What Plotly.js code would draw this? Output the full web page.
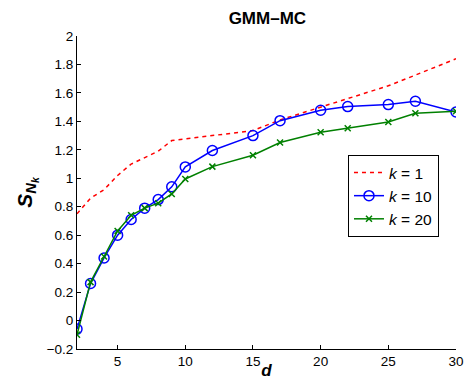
<!DOCTYPE html>
<html>
<head>
<meta charset="utf-8">
<script src="https://cdn.plot.ly/plotly-3.0.1.min.js"></script>
<style>html,body{margin:0;padding:0;background:#fff}#chart{width:465px;height:380px}</style>
</head>
<body>
<div id="chart"></div>
<script>
var dValues = [2, 3, 4, 5, 6, 7, 8, 9, 10, 12, 15, 17, 20, 22, 25, 27, 30];
var k1Values = [0.75, 0.86, 0.92, 1.02, 1.10, 1.145, 1.19, 1.265, 1.277, 1.30, 1.335, 1.41, 1.50, 1.555, 1.65, 1.725, 1.84];
var k10Values = [-0.06, 0.26, 0.44, 0.60, 0.71, 0.79, 0.85, 0.94, 1.08, 1.195, 1.30, 1.405, 1.478, 1.504, 1.518, 1.541, 1.466];
var k20Values = [-0.10, 0.27, 0.45, 0.63, 0.74, 0.79, 0.825, 0.89, 0.995, 1.082, 1.162, 1.251, 1.324, 1.352, 1.396, 1.457, 1.471];
var seriesNames = ['<i>k</i> = 1', '<i>k</i> = 10', '<i>k</i> = 20'];
var xTicks = [5, 10, 15, 20, 25, 30];
var yTicks = [-0.2, 0, 0.2, 0.4, 0.6, 0.8, 1, 1.2, 1.4, 1.6, 1.8, 2];
var yTickText = ['\u22120.2', '0', '0.2', '0.4', '0.6', '0.8', '1', '1.2', '1.4', '1.6', '1.8', '2'];

var traces = [
  {x: dValues, y: k1Values, name: seriesNames[0], mode: 'lines',
   line: {color: '#ff0000', width: 1.5, dash: '4px,4px'}},
  {x: dValues, y: k10Values, name: seriesNames[1], mode: 'lines+markers',
   line: {color: '#0000ff', width: 1.5},
   marker: {symbol: 'circle-open', size: 10, color: '#0000ff', line: {width: 1.5, color: '#0000ff'}}},
  {x: dValues, y: k20Values, name: seriesNames[2], mode: 'lines+markers',
   line: {color: '#008000', width: 1.5},
   marker: {symbol: 'x-thin-open', size: 6, color: '#008000', line: {width: 1.5, color: '#008000'}}}
];

var font = 'Liberation Sans, Arial, Helvetica, sans-serif';
var layout = {
  width: 465, height: 380,
  margin: {l: 77, r: 9, t: 36, b: 31},
  paper_bgcolor: '#fff', plot_bgcolor: '#fff',
  font: {family: font, size: 13, color: '#000'},
  title: {text: '<b>GMM\u2013MC</b>', x: 0.575, xanchor: 'center', y: 0.953, yanchor: 'middle',
          font: {family: font, size: 17, color: '#000'}},
  xaxis: {range: [2, 30], tickvals: xTicks, ticks: 'inside', ticklen: 4, tickwidth: 1, tickcolor: '#000',
          showline: true, linecolor: '#000', linewidth: 1, mirror: false, showgrid: false, zeroline: false,
          tickfont: {family: font, size: 13.5, color: '#000'},
          title: {text: '<b><i>d</i></b>', standoff: 4, font: {family: font, size: 17, color: '#000'}}},
  yaxis: {range: [-0.2, 2], tickvals: yTicks, ticktext: yTickText, ticks: 'inside', ticklen: 4, tickwidth: 1, tickcolor: '#000',
          showline: true, linecolor: '#000', linewidth: 1, mirror: false, showgrid: false, zeroline: false,
          tickfont: {family: font, size: 13.5, color: '#000'},
          title: {text: '<b><i>S</i><sub><i>N</i><sub><i>k</i></sub></sub></b>', standoff: 8, font: {family: font, size: 21, color: '#000'}}},
  legend: {x: 0.715, y: 0.62, xanchor: 'left', yanchor: 'top', bgcolor: '#fff', bordercolor: '#000', borderwidth: 1,
           font: {family: font, size: 15.5, color: '#000'}, tracegroupgap: 0, itemwidth: 30},
  showlegend: true
};
Plotly.newPlot('chart', traces, layout, {displayModeBar: false, staticPlot: true});
</script>
</body>
</html>
